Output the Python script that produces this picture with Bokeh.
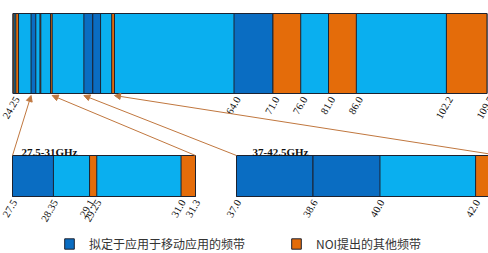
import math
from bokeh.plotting import figure
from bokeh.models import Range1d, ColumnDataSource, Arrow, NormalHead, Legend, LegendItem
from bokeh.core.properties import value
from bokeh.embed import file_html
from bokeh.resources import INLINE

# ---------------- data (GHz) ----------------
spectrum_lo, spectrum_hi = 24.25, 109.5
mobile_lo = [27.5, 37.0, 38.6, 64.0]
mobile_hi = [28.35, 38.6, 40.0, 71.0]
noi_lo = [24.25, 24.75, 29.1, 31.0, 42.0, 71.0, 81.0, 102.2]
noi_hi = [24.45, 25.25, 29.25, 31.3, 42.5, 76.0, 86.0, 109.5]

top_ticks = [24.25, 64.0, 71.0, 76.0, 81.0, 86.0, 102.2, 109.5]
top_tick_labels = ["24.25", "64.0", "71.0", "76.0", "81.0", "86.0", "102.2", "109.5"]

zoom1_range = (27.5, 31.3)
zoom1_ticks = [27.5, 28.35, 29.1, 29.25, 31.0, 31.3]
zoom1_tick_labels = ["27.5", "28.35", "29.1", "29.25", "31.0", "31.3"]
zoom1_title = "27.5-31GHz"

zoom2_range = (37.0, 42.5)
zoom2_ticks = [37.0, 38.6, 40.0, 42.0, 42.5]
zoom2_tick_labels = ["37.0", "38.6", "40.0", "42.0", "42.5"]
zoom2_title = "37-42.5GHz"

legend_labels = ["拟定于应用于移动应用的频带", "NOI提出的其他频带"]

# ---------------- layout / style ----------------
W, H = 488, 253
PX_PER_GHZ = 5.56
X0 = 24.25 - 12.5 / PX_PER_GHZ     # main GHz scale of the overview bar
X1 = X0 + W / PX_PER_GHZ
TOP_Y0, TOP_Y1 = 13, 93
ZOOM_Y0, ZOOM_Y1 = 155, 196
ARROW_TIP_Y = 95
TITLE_Y = 151
ZOOM1_PX = (12, 195)
ZOOM2_PX = (236, 499)

LIGHT = "#0AAFEF"
DARK = "#0A6DC2"
ORANGE = "#E46C0A"
EDGE = "#1c2230"
ARROW_C = "#C0773F"
SERIF = "Liberation Serif"


def px_to_main(px):
    return X0 + px * (X1 - X0) / W


def zoom_mapper(rng, pxr):
    lo, hi = rng

    def f(v):
        px = pxr[0] + (v - lo) / (hi - lo) * (pxr[1] - pxr[0])
        return px_to_main(px)
    return f


ident = lambda v: v
m1 = zoom_mapper(zoom1_range, ZOOM1_PX)
m2 = zoom_mapper(zoom2_range, ZOOM2_PX)

bars = [
    (spectrum_lo, spectrum_hi, ident, TOP_Y0, TOP_Y1),
    (zoom1_range[0], zoom1_range[1], m1, ZOOM_Y0, ZOOM_Y1),
    (zoom2_range[0], zoom2_range[1], m2, ZOOM_Y0, ZOOM_Y1),
]

cats = {k: dict(left=[], right=[], top=[], bottom=[]) for k in ("other", "mobile", "noi")}


def add(cat, a, b, f, y0, y1):
    d = cats[cat]
    d["left"].append(f(a)); d["right"].append(f(b))
    d["top"].append(y0); d["bottom"].append(y1)


for lo, hi, f, y0, y1 in bars:
    add("other", lo, hi, f, y0, y1)
    for cat, los, his in (("mobile", mobile_lo, mobile_hi), ("noi", noi_lo, noi_hi)):
        for a, b in zip(los, his):
            a2, b2 = max(a, lo), min(b, hi)
            if b2 > a2:
                add(cat, a2, b2, f, y0, y1)

p = figure(width=W, height=H, output_backend="svg", toolbar_location=None,
           x_range=Range1d(X0, X1), y_range=Range1d(H, 0),
           x_axis_type=None, y_axis_type=None, min_border=0,
           background_fill_color="white", border_fill_color="white")
p.outline_line_color = None
p.grid.visible = False

r_other = p.quad(source=ColumnDataSource(cats["other"]), left="left", right="right",
                 top="top", bottom="bottom", fill_color=LIGHT, line_color=EDGE, line_width=1)
r_mob = p.quad(source=ColumnDataSource(cats["mobile"]), left="left", right="right",
               top="top", bottom="bottom", fill_color=DARK, line_color=EDGE, line_width=1)
r_noi = p.quad(source=ColumnDataSource(cats["noi"]), left="left", right="right",
               top="top", bottom="bottom", fill_color=ORANGE, line_color=EDGE, line_width=1)

# tick labels
for ticks, labels, f, ybase, xo in ((top_ticks, top_tick_labels, ident, TOP_Y1, 4),
                                    (zoom1_ticks, zoom1_tick_labels, m1, ZOOM_Y1, 2),
                                    (zoom2_ticks, zoom2_tick_labels, m2, ZOOM_Y1, 2)):
    src = ColumnDataSource(dict(x=[f(t) for t in ticks], y=[ybase + 4] * len(ticks), t=labels))
    p.text(x="x", y="y", text="t", source=src, angle=math.pi / 3, text_align="right",
           text_baseline="middle", text_font=value(SERIF), text_font_size="10.5px",
           text_color="#111111", x_offset=xo)

# zoom titles
tsrc = ColumnDataSource(dict(x=[m1(zoom1_range[0]), m2(zoom2_range[0])], y=[TITLE_Y, TITLE_Y],
                             t=[zoom1_title, zoom2_title], xo=[9, 16]))
p.text(x="x", y="y", text="t", source=tsrc, x_offset="xo", text_align="left",
       text_baseline="alphabetic", text_font=value(SERIF), text_font_size="11px",
       text_font_style="bold", text_color="#111111")

# arrows from zoom bars to overview bar
for f, v in ((m1, zoom1_range[0]), (m1, zoom1_range[1]), (m2, zoom2_range[0]), (m2, zoom2_range[1])):
    p.add_layout(Arrow(end=NormalHead(size=6, fill_color=ARROW_C, line_color=ARROW_C, line_width=1),
                       x_start=f(v), y_start=ZOOM_Y0, x_end=v, y_end=ARROW_TIP_Y,
                       line_color=ARROW_C, line_width=1))

legend = Legend(items=[LegendItem(label=legend_labels[0], renderers=[r_mob]),
                       LegendItem(label=legend_labels[1], renderers=[r_noi])],
                orientation="horizontal", location=(63, 1), glyph_width=12, glyph_height=13,
                label_standoff=14, spacing=45, padding=0, margin=0, label_height=13,
                border_line_color=None, background_fill_alpha=0,
                label_text_font="Noto Sans CJK SC", label_text_font_size="12px",
                label_text_color="#333333")
p.add_layout(legend)

open("out.html", "w").write(file_html(p, INLINE))
